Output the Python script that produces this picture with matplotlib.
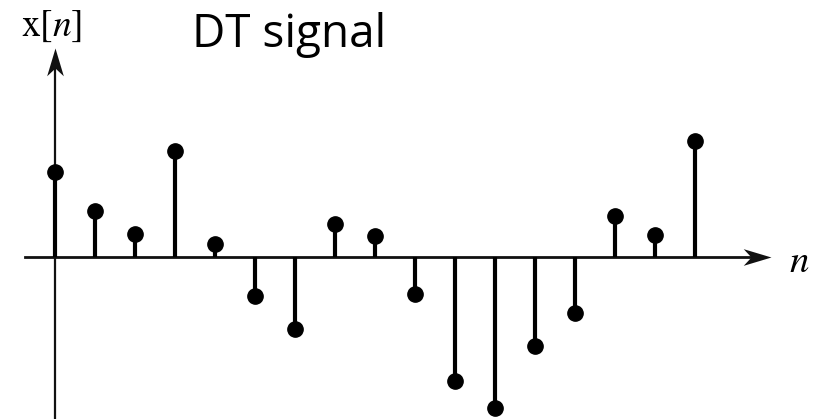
import matplotlib
matplotlib.use('Agg')
import matplotlib.pyplot as plt
from matplotlib.path import Path
import numpy as np

plt.rcParams['mathtext.fontset'] = 'stix'

# 离散时间信号采样值（任意单位）
n = np.arange(17)
x_vals = [8.5, 4.6, 2.3, 10.6, 1.3, -3.9, -7.2, 3.3, 2.1,
          -3.7, -12.4, -15.1, -8.9, -5.6, 4.1, 2.2, 11.6]

title = 'DT signal'
ylabel = r'$\mathrm{x}[n]$'
xlabel = r'$n$'

fig = plt.figure(figsize=(8.17, 4.19), dpi=100)
ax = fig.add_axes([0, 0, 1, 1])
ax.set_xlim(-1.375, 19.05)
ax.set_ylim(-16.17, 25.73)
ax.axis('off')

# 箭头形状（尖端在原点）
codes = [Path.MOVETO, Path.LINETO, Path.LINETO, Path.LINETO, Path.CLOSEPOLY]
head_r = Path([(0, 0), (-1, 0.3), (-0.72, 0), (-1, -0.3), (0, 0)], codes)
head_u = Path([(0, 0), (0.3, -1), (0, -0.72), (-0.3, -1), (0, 0)], codes)

x_end, y_end = 17.9, 20.9
ax.plot([-0.75, x_end - 0.3], [0, 0], color='#111111', lw=2.0)
ax.plot([x_end], [0], marker=head_r, ms=40, color='#111111', mew=0)
ax.plot([0, 0], [-17, y_end - 1.5], color='#111111', lw=1.6)
ax.plot([0], [y_end], marker=head_u, ms=40, color='#111111', mew=0)

# 杆图
ax.vlines(n, 0, x_vals, color='black', lw=3)
ax.plot(n, x_vals, 'o', color='black', ms=11, zorder=3)

ax.text(-0.075, 23.1, ylabel, fontsize=27, ha='center', va='center')
ax.text(18.6, -0.42, xlabel, fontsize=28, ha='center', va='center')
ax.text(5.84, 21.0, title, fontsize=33, ha='center', va='baseline',
        family=['Open Sans', 'DejaVu Sans'])

plt.savefig('out.png', dpi=100)
